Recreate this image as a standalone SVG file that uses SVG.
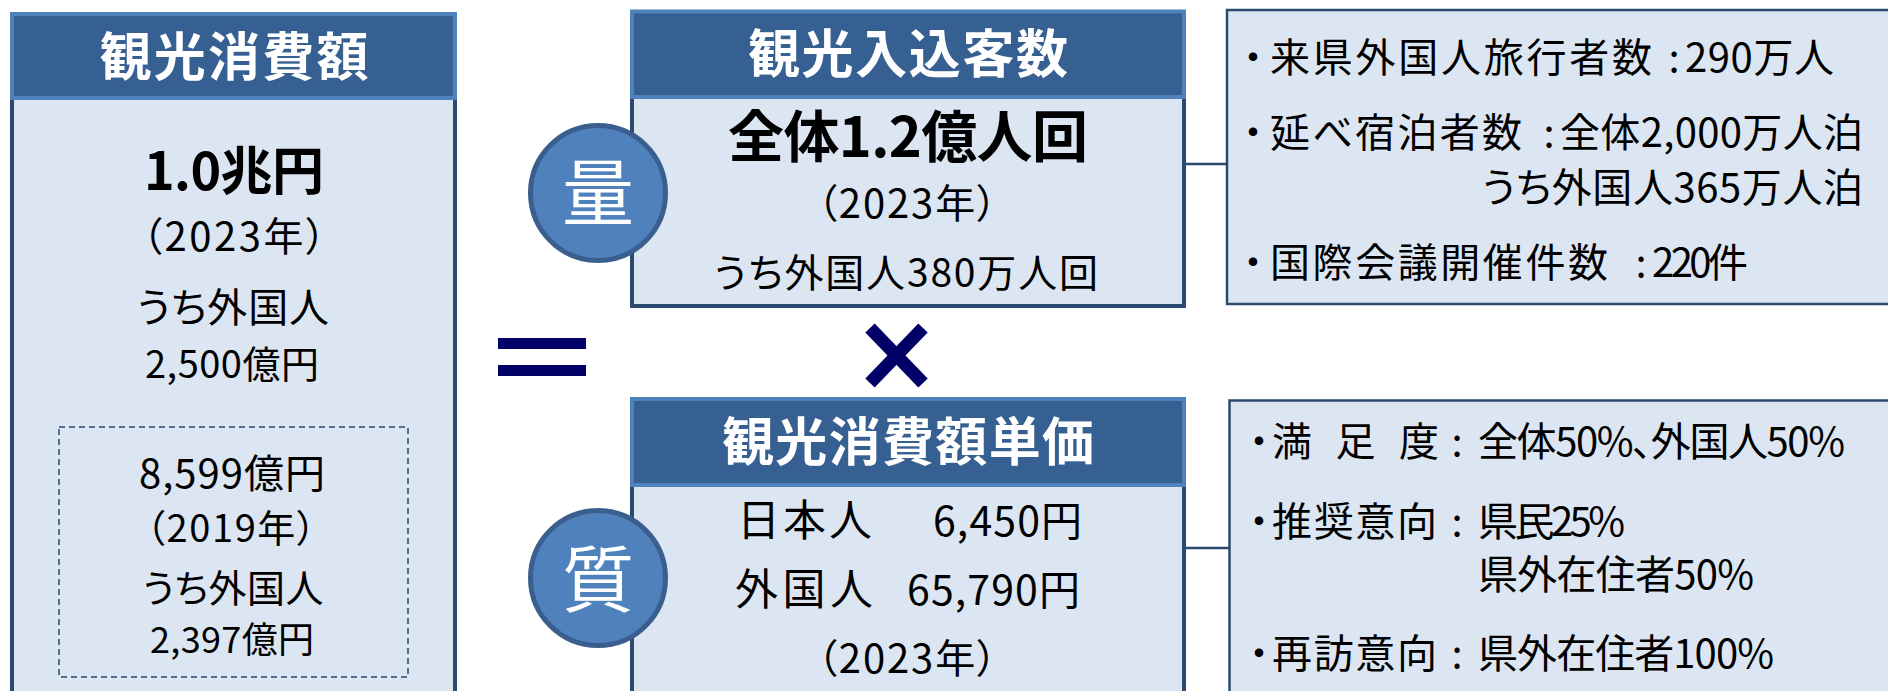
<svg xmlns="http://www.w3.org/2000/svg" width="1888" height="691" viewBox="0 0 1888 691">
<style>
text{font-family:"Noto Sans CJK JP","Liberation Sans",sans-serif;font-feature-settings:"palt";fill:#000}
.hd{fill:#376092;stroke:#4F81BD;stroke-width:4}
.bd{fill:#DCE6F2;stroke:#2B4A70;stroke-width:4}
.rb{fill:#DCE6F2;stroke:#2B4A70;stroke-width:2.5}
.ht{fill:#fff;font-size:52px;font-weight:700;text-anchor:middle}
.c{text-anchor:middle}
.circ{fill:#4F81BD;stroke:#3A5F8E;stroke-width:5}
.ct{fill:#fff;font-size:72px;text-anchor:middle}
.r{font-size:40px}
.op{fill:#000066}
.conn{stroke:#2B4A70;stroke-width:2.5;fill:none}
</style>
<g id="connectors">
<line class="conn" x1="1186" y1="164" x2="1227" y2="164"/>
<line class="conn" x1="1186" y1="548" x2="1230" y2="548"/>
</g>
<g id="kanko-shohigaku">
<rect class="bd" x="12" y="98" width="443" height="620"/>
<rect class="hd" x="12" y="14" width="443" height="84"/>
<text class="ht" x="234" y="76" textLength="269">観光消費額</text>
<text class="c" x="234" y="190" font-size="52" font-weight="700" textLength="180">1.0兆円</text>
<text class="c" x="234" y="251" font-size="40" textLength="184">（2023年）</text>
<text class="c" x="233" y="322" font-size="40" textLength="192">うち外国人</text>
<text class="c" x="232" y="378" font-size="38" textLength="174">2,500億円</text>
<rect x="59" y="427" width="349" height="250" fill="none" stroke="#2B4A70" stroke-width="1.5" stroke-dasharray="6 4"/>
<text class="c" x="232" y="488" font-size="40" textLength="186">8,599億円</text>
<text class="c" x="231" y="542" font-size="38" textLength="170">（2019年）</text>
<text class="c" x="233" y="602" font-size="38" textLength="181">うち外国人</text>
<text class="c" x="232" y="653" font-size="36" textLength="164">2,397億円</text>
</g>
<g id="equals">
<rect class="op" x="498" y="338" width="88" height="11"/>
<rect class="op" x="498" y="365" width="88" height="11"/>
</g>
<g id="times">
<line x1="870" y1="328" x2="923" y2="383" stroke="#000066" stroke-width="13"/>
<line x1="923" y1="328" x2="870" y2="383" stroke="#000066" stroke-width="13"/>
</g>
<g id="irikomi">
<rect class="bd" x="632" y="97" width="552" height="209"/>
<rect class="hd" x="632" y="11.5" width="552" height="85.5"/>
<text class="ht" x="908" y="73" textLength="320">観光入込客数</text>
<text class="c" x="908" y="157" font-size="56" font-weight="700" textLength="360">全体1.2億人回</text>
<text class="c" x="907" y="218" font-size="40" textLength="180">（2023年）</text>
<text class="c" x="906" y="287" font-size="39" textLength="384">うち外国人380万人回</text>
</g>
<g id="ryo">
<circle class="circ" cx="598" cy="193" r="67.5"/>
<text class="ct" x="598" y="219">量</text>
</g>
<g id="tanka">
<rect class="bd" x="632" y="485" width="552" height="240"/>
<rect class="hd" x="632" y="399" width="552" height="86"/>
<text class="ht" x="908" y="461" textLength="372">観光消費額単価</text>
<text x="737" y="536" font-size="43" textLength="135">日本人</text>
<text x="933" y="536" font-size="41" textLength="149">6,450円</text>
<text x="735" y="605" font-size="43" textLength="138">外国人</text>
<text x="907" y="605" font-size="41" textLength="173">65,790円</text>
<text class="c" x="907" y="673" font-size="40" textLength="180">（2023年）</text>
</g>
<g id="shitsu">
<circle class="circ" cx="598" cy="578" r="67.5"/>
<text class="ct" x="598" y="606">質</text>
</g>
<g id="ryo-detail">
<rect class="rb" x="1227" y="10" width="700" height="294"/>
<text class="r c" x="1253" y="72">・</text>
<text class="r" x="1270" y="72" textLength="382">来県外国人旅行者数</text>
<text class="r c" x="1674" y="72">:</text>
<text class="r" x="1685" y="72" textLength="149">290万人</text>
<text class="r c" x="1253" y="147">・</text>
<text class="r" x="1270" y="147" textLength="252">延べ宿泊者数</text>
<text class="r c" x="1549" y="147">:</text>
<text class="r" x="1560" y="147" textLength="303">全体2,000万人泊</text>
<text class="r" x="1482" y="202" textLength="381">うち外国人365万人泊</text>
<text class="r c" x="1253" y="277">・</text>
<text class="r" x="1270" y="277" textLength="338">国際会議開催件数</text>
<text class="r c" x="1641" y="277">:</text>
<text class="r" x="1652" y="277" textLength="96">220件</text>
</g>
<g id="shitsu-detail">
<rect class="rb" x="1229.5" y="400.5" width="700" height="320"/>
<text class="r c" x="1259" y="456">・</text>
<text class="r" x="1272" y="456" textLength="167">満 足 度</text>
<text class="r c" x="1457" y="456">:</text>
<text class="r" x="1478" y="456" textLength="367">全体50%、外国人50%</text>
<text class="r c" x="1259" y="536">・</text>
<text class="r" x="1272" y="536" textLength="165">推奨意向</text>
<text class="r c" x="1457" y="536">:</text>
<text class="r" x="1478" y="536" textLength="147">県民25%</text>
<text class="r" x="1478" y="589" textLength="276">県外在住者50%</text>
<text class="r c" x="1259" y="668">・</text>
<text class="r" x="1272" y="668" textLength="165">再訪意向</text>
<text class="r c" x="1457" y="668">:</text>
<text class="r" x="1478" y="668" textLength="296">県外在住者100%</text>
</g>
</svg>
